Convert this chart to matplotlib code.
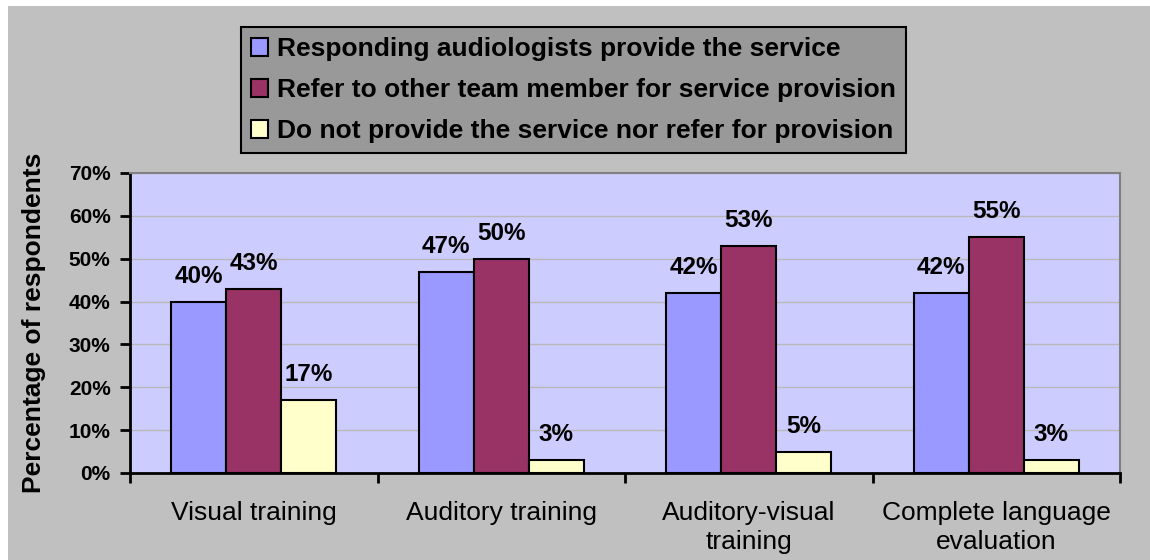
import numpy as np
import matplotlib
matplotlib.use('Agg')
import matplotlib.pyplot as plt
from matplotlib.patches import Rectangle

categories = ['Visual training', 'Auditory training', 'Auditory-visual\ntraining',
              'Complete language\nevaluation']
series_names = ['Responding audiologists provide the service',
                'Refer to other team member for service provision',
                'Do not provide the service nor refer for provision']
provide = [40, 47, 42, 42]
refer = [43, 50, 53, 55]
neither = [17, 3, 5, 3]
colors = ['#9999FF', '#993366', '#FFFFCC']

plt.rcParams['font.family'] = ['Liberation Sans', 'DejaVu Sans']

fig = plt.figure(figsize=(11.5, 5.6), dpi=100, facecolor='white')
fig.patches.append(Rectangle((8 / 1150, 0), 1, 554 / 560, transform=fig.transFigure,
                             facecolor='#C0C0C0', edgecolor='none', zorder=-10))
ax = fig.add_axes([130 / 1150, 87 / 560, 990 / 1150, 300 / 560])
ax.set_facecolor('#CCCCFF')

x = np.arange(len(categories))
w = 0.222
for i, vals in enumerate([provide, refer, neither]):
    ax.bar(x + (i - 1) * w, vals, w, color=colors[i], edgecolor='black',
           linewidth=1.5, label=series_names[i], zorder=3)
    for xi, v in zip(x + (i - 1) * w, vals):
        ax.annotate('%d%%' % v, (xi, v), xytext=(0, 10), textcoords='offset points',
                    ha='center', va='bottom', fontsize=17.5, fontweight='bold')

ax.set_xlim(-0.5, 3.5)
ax.set_ylim(0, 70)
ax.set_yticks(range(0, 71, 10))
ax.set_yticklabels(['%d%%' % t for t in range(0, 71, 10)], fontsize=15, fontweight='bold')
ax.yaxis.grid(True, color='#B8B8B8', linewidth=1, zorder=0)
ax.set_axisbelow(True)

ax.set_xticks(np.arange(-0.5, 4, 1))
ax.set_xticklabels([])
ax.set_xticks(x, minor=True)
ax.set_xticklabels(categories, minor=True, fontsize=19, linespacing=1.3)
ax.tick_params(axis='x', which='minor', length=0, pad=20)
ax.tick_params(axis='x', which='major', length=7, width=2, direction='out')
ax.tick_params(axis='y', length=7, width=2, direction='out', pad=7)

for s in ['left', 'bottom']:
    ax.spines[s].set_linewidth(2)
for s in ['top', 'right']:
    ax.spines[s].set_color('#808080')
    ax.spines[s].set_linewidth(1.5)

ax.set_ylabel('Percentage of respondents', fontsize=19, fontweight='bold', labelpad=16)

leg = fig.legend(loc='upper left', bbox_to_anchor=(241 / 1150, 1 - 27 / 560),
                 fancybox=False, framealpha=1, facecolor='#999999', edgecolor='black',
                 prop={'size': 19, 'weight': 'bold'}, handlelength=0.65,
                 handleheight=0.65, handletextpad=0.35, borderpad=0.38, labelspacing=0.65,
                 borderaxespad=0)
leg.get_frame().set_linewidth(1.5)

fig.savefig('out.png', dpi=100, facecolor=fig.get_facecolor())
